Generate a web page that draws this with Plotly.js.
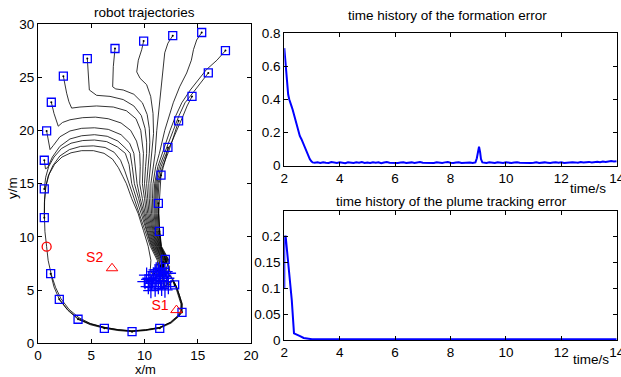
<!DOCTYPE html>
<html>
<head>
<meta charset="utf-8">
<script src="https://cdn.plot.ly/plotly-3.0.1.min.js"></script>
<style>html,body{margin:0;padding:0;background:#fff;}#chart{width:621px;height:377px;}</style>
</head>
<body>
<div id="chart"></div>
<script>
// ---------- robot trajectories (left panel), metres ----------
const pathNames = ["circle","Q","P","A","B","C","D","E","F","G","H","I","J","K","L","M","N","O","AB","AA","Z","R","S","T","C2","Y"];
const pathsX = [
 [0.81,0.65,0.6,0.62,0.75,1.05,1.55,2.25,3.1,4.1,5.2,6.2,7.0,7.55,7.95,8.3,8.8,9.4,9.9,10.35,10.6,10.6,10.55,10.65,11.0,11.5,11.8,11.6,11.1,10.99],
 [0.59,0.6,0.7,0.95,1.4,2.05,2.95,4.0,5.2,6.3,7.15,7.75,8.15,8.55,9.05,9.55,10.05,10.55,11.2,11.3],
 [0.59,0.72,1.0,1.5,2.2,3.1,4.2,5.3,6.45,7.45,8.2,8.55,8.8,9.25,9.7,10.15,10.65,11.3,11.61],
 [0.59,0.7,0.9,1.35,2.05,3.0,4.1,5.3,6.5,7.5,8.25,8.65,8.85,9.05,9.45,9.82,10.25,10.72,11.4,11.77],
 [0.81,0.95,1.13,1.45,2.05,3.0,4.1,5.3,6.6,7.8,8.6,9.0,9.15,9.3,9.6,9.94,10.35,10.79,11.48,12.08],
 [1.25,1.5,1.9,2.3,3.0,4.2,5.4,6.6,7.8,8.7,9.25,9.55,9.6,9.55,9.8,10.06,10.45,10.86,11.56,12.24],
 [2.38,2.5,2.69,2.9,3.16,3.94,5.5,7.07,8.3,9.2,9.65,9.9,9.85,9.8,10.0,10.18,10.54,10.93,11.64,12.24],
 [4.63,4.72,4.82,5.5,6.76,8.0,9.0,9.7,10.05,10.2,10.2,10.1,10.0,10.15,10.3,10.63,11.0,11.7,11.92],
 [7.23,7.1,7.07,7.01,7.3,8.0,9.0,9.8,10.25,10.45,10.5,10.45,10.35,10.2,10.3,10.42,10.72,11.06,11.76,11.61],
 [9.92,9.74,9.42,9.27,9.58,10.2,10.58,10.8,10.85,10.7,10.55,10.4,10.45,10.54,10.8,11.12,11.82,11.3],
 [12.65,12.2,11.9,11.77,11.6,11.45,11.3,11.15,11.0,10.8,10.6,10.6,10.66,10.88,11.18,11.88,11.3],
 [15.37,14.9,14.6,14.4,13.96,13.3,12.7,12.2,11.9,11.4,11.05,10.8,10.75,10.78,10.96,11.24,11.94,11.46],
 [17.6,16.8,15.8,15.05,14.3,13.5,12.9,12.4,11.7,11.25,10.95,10.88,10.9,11.04,11.3,12.0,11.15],
 [15.99,15.4,14.6,13.8,13.2,12.7,11.9,11.4,11.05,10.98,11.0,11.12,11.35,12.05,10.67],
 [14.46,14.0,13.55,13.1,12.55,12.05,11.55,11.15,11.07,11.1,11.2,11.4,12.1,10.52],
 [13.2,12.95,12.6,12.2,11.7,11.25,11.17,11.2,11.28,11.45,12.15,10.83],
 [12.2,12.05,11.75,11.35,11.27,11.28,11.36,11.5,12.2,10.36],
 [11.55,11.5,11.35,11.32,11.42,11.55,12.25,10.05],
 [11.3,11.33,11.42,11.6,12.3,11.8],
 [11.39,11.55,11.95,12.35,12.24],
 [11.95,12.3,12.5,11.92],
 [1.19,1.5,2.0,2.8,3.76,4.9,6.23,7.5,8.83,10.1,11.43,12.5,13.2,13.52,13.55,13.33,13.02,12.7,12.4,12.08],
 [2.0,2.75,3.72,4.88,6.2,7.5,8.8,10.1,11.4,12.45,13.15,13.45,13.48,13.28,12.98,12.65,12.24],
 [3.76,4.85,6.2,7.5,8.8,10.1,11.4,12.42,13.1,13.4,13.42,13.22,12.92,12.6,11.92],
 [0.81,0.95,1.25,1.65,2.15,2.9,3.85,4.95,6.25,7.55,8.85,10.1,11.4,12.5,13.2,13.5,13.5,13.3,13.0,12.68,11.61],
 [12.83,12.6,12.3,11.99]
];
const pathsY = [
 [9.08,10.5,12.0,13.5,14.8,15.9,16.8,17.5,17.9,18.1,18.1,17.85,17.3,16.5,15.7,15.0,13.6,12.2,10.6,9.1,7.8,7.5,7.0,6.6,6.4,6.5,6.9,7.3,7.4,6.73],
 [11.8,13.2,14.6,15.7,16.7,17.6,18.2,18.5,18.55,18.4,17.95,17.2,16.2,15.0,13.6,12.2,10.6,9.1,7.8,6.89],
 [14.5,15.6,16.6,17.5,18.3,18.8,19.05,19.1,18.95,18.45,17.85,16.8,15.0,13.6,12.2,10.6,9.1,7.8,7.05],
 [17.2,16.4,16.5,17.5,18.5,19.2,19.5,19.6,19.45,19.0,18.3,17.85,16.6,15.0,13.6,12.2,10.6,9.1,7.8,5.79],
 [19.95,19.0,18.2,18.6,19.4,19.95,20.2,20.25,20.1,19.6,18.8,17.85,16.6,15.0,13.6,12.2,10.6,9.1,7.8,6.11],
 [22.65,21.6,20.4,20.75,21.0,21.2,21.25,21.1,20.7,20.0,19.0,17.85,16.6,15.0,13.6,12.2,10.6,9.1,7.8,6.58],
 [25.1,24.3,23.5,22.7,22.1,22.2,22.3,22.2,21.85,21.1,20.0,17.85,16.6,15.0,13.6,12.2,10.6,9.1,7.8,5.32],
 [26.75,25.05,23.8,23.3,23.2,22.9,22.3,21.4,20.2,18.9,17.85,16.6,15.0,13.6,12.2,10.6,9.1,7.8,5.01],
 [27.7,26.6,26.0,24.1,23.9,23.8,23.4,22.6,21.5,20.2,18.9,17.85,16.6,15.0,13.6,12.2,10.6,9.1,7.8,5.17],
 [28.4,27.6,26.6,25.5,24.9,24.3,23.2,21.6,19.7,17.85,16.6,15.0,13.6,12.2,10.6,9.1,7.8,5.32],
 [28.9,28.2,27.3,26.0,24.7,23.2,21.6,20.0,17.85,16.6,15.0,13.6,12.2,10.6,9.1,7.8,6.89],
 [29.2,28.5,27.6,26.6,25.4,24.1,22.6,21.0,20.0,17.85,16.6,15.0,13.6,12.2,10.6,9.1,7.8,6.42],
 [27.5,26.6,25.7,24.7,23.8,22.6,21.3,20.0,17.85,16.6,15.0,13.6,12.2,10.6,9.1,7.8,6.11],
 [25.4,24.6,23.6,22.6,21.3,20.0,17.85,16.6,15.0,13.6,12.2,10.6,9.1,7.8,5.64],
 [23.2,22.3,21.2,20.1,18.9,17.85,16.6,15.0,13.6,12.2,10.6,9.1,7.8,6.11],
 [20.9,20.0,19.0,17.85,16.6,15.0,13.6,12.2,10.6,9.1,7.8,6.42],
 [18.4,17.6,16.5,15.0,13.6,12.2,10.6,9.1,7.8,5.32],
 [15.8,15.0,13.6,12.2,10.6,9.1,7.8,5.79],
 [13.15,12.2,10.6,9.1,7.8,6.3],
 [10.52,9.1,7.89,7.2,6.58],
 [7.89,7.1,6.5,6.73],
 [6.54,5.3,4.13,3.1,2.26,1.75,1.41,1.2,1.09,1.2,1.41,1.9,2.5,2.91,3.7,4.4,5.3,5.95,6.4,6.11],
 [4.13,3.2,2.36,1.82,1.47,1.25,1.14,1.24,1.46,1.95,2.55,3.0,3.7,4.45,5.3,5.95,5.32],
 [2.26,1.85,1.5,1.28,1.17,1.27,1.49,1.98,2.58,3.05,3.7,4.45,5.3,5.9,5.01],
 [9.08,7.8,6.45,5.25,4.2,3.2,2.4,1.85,1.5,1.28,1.16,1.26,1.48,1.97,2.56,3.0,3.7,4.45,5.3,5.95,5.17],
 [5.48,6.0,6.5,5.64]
];
// start positions (squares)
const startX = [0.59,0.81,1.25,2.38,4.63,7.23,9.92,12.65,15.37,17.6,15.99,14.46,13.2,12.2,11.55,11.3,11.39,11.95,12.83,13.52,11.43,8.83,6.23,3.76,2.0,1.19,0.59,0.59,10.36];
const startY = [17.2,19.95,22.65,25.1,26.75,27.7,28.4,28.9,29.2,27.5,25.4,23.2,20.9,18.4,15.8,13.15,10.52,7.89,5.48,2.91,1.41,1.09,1.41,2.26,4.13,6.54,11.8,14.5,5.64];
// leader start (red circle)
const leaderX = [0.81];
const leaderY = [9.08];
// final positions (+)
const finalX = [10.05,10.36,10.67,10.52,10.83,10.99,11.3,11.61,11.92,11.46,11.15,10.99,11.3,11.61,11.92,12.24,11.77,12.08,12.24,10.2,10.8,11.1,11.5,11.8,10.6,11.0,11.4,10.4];
const finalY = [5.79,5.32,5.64,6.11,6.42,6.73,6.89,7.05,6.73,6.42,6.11,5.64,5.32,5.17,5.01,5.32,5.79,6.11,6.58,6.4,5.9,6.9,5.9,6.3,4.95,5.1,6.7,6.0];
// sources
const srcNames = ["S2","S1"];
const srcX = [6.95,13.0];
const srcY = [7.05,3.12];
const srcLabelX = [5.32,11.46];
const srcLabelY = [8.0,3.44];

// ---------- formation error ----------
const feT = [2.0,2.03,2.06,2.1,2.14,2.18,2.22,2.26,2.3,2.35,2.4,2.45,2.5,2.56,2.62,2.68,2.74,2.8,2.86,2.92,2.97,3.02,3.1,
 3.2,3.3,3.4,3.5,3.6,3.7,3.8,3.9,4.0,4.1,4.2,4.3,4.4,4.5,4.6,4.7,4.8,4.9,5.0,5.1,5.2,5.3,5.4,5.5,5.6,5.7,5.8,5.9,6.0,6.1,6.2,6.3,6.4,6.5,6.6,6.7,6.8,6.9,7.0,7.1,7.2,7.3,7.4,7.5,7.6,7.7,7.8,7.9,8.0,8.1,8.2,8.3,8.4,8.5,8.6,8.7,8.8,
 8.9,8.95,9.0,9.03,9.07,9.1,9.15,
 9.2,9.3,9.4,9.5,9.6,9.7,9.8,9.9,10.0,10.1,10.2,10.3,10.4,10.5,10.6,10.7,10.8,10.9,11.0,11.1,11.2,11.3,11.4,11.5,11.6,11.7,11.8,11.9,12.0,12.1,12.2,12.3,12.4,12.5,12.6,12.7,12.8,12.9,13.0,13.1,13.2,13.3,13.4,13.5,13.6,13.7,13.8,13.9,14.0];
const feV = [0.71,0.64,0.56,0.48,0.43,0.40,0.37,0.36,0.34,0.31,0.28,0.245,0.205,0.18,0.16,0.135,0.11,0.085,0.06,0.04,0.028,0.02,0.018,
 0.020,0.017,0.021,0.018,0.016,0.022,0.019,0.017,0.020,0.018,
 0.015,0.021,0.019,0.016,0.020,0.018,0.022,0.017,0.019,0.016,
 0.021,0.018,0.020,0.015,0.019,0.022,0.018,0.017,0.020,0.016,
 0.019,0.021,0.017,0.018,0.020,0.016,0.019,0.022,0.018,0.017,
 0.020,0.019,0.016,0.021,0.018,0.017,0.020,0.022,0.018,0.016,
 0.019,0.021,0.017,0.018,0.020,0.019,0.017,
 0.02,0.045,0.09,0.115,0.08,0.04,0.02,
 0.019,0.017,0.020,0.018,0.016,0.021,0.019,0.017,0.020,0.018,
 0.016,0.019,0.021,0.018,0.017,0.020,0.019,0.016,0.018,0.021,
 0.017,0.019,0.020,0.018,0.016,0.019,0.021,0.018,0.020,0.017,
 0.019,0.018,0.021,0.020,0.018,0.022,0.019,0.021,0.023,0.020,
 0.022,0.024,0.021,0.025,0.023,0.026,0.028,0.025,0.027];

// ---------- plume tracking error ----------
const ptT = [2.0,2.0,2.05,2.1,2.18,2.27,2.35,2.45,2.55,2.7,2.85,3.0,4,5,6,7,8,9,10,11,12,13,14];
const ptV = [0.1,0.2,0.2,0.175,0.129,0.077,0.013,0.011,0.008,0.004,0.0025,0.0015,0.0015,0.0015,0.0015,0.0015,0.0015,0.0015,0.0015,0.0015,0.0015,0.0015,0.0015];

const FONT = "Liberation Sans, Arial, Helvetica, sans-serif";
const traces = [];
pathsX.forEach((px, i) => {
  traces.push({x: px, y: pathsY[i], name: pathNames[i], type: "scatter", mode: "lines",
    line: {color: "black", width: 0.8}, xaxis: "x", yaxis: "y", hoverinfo: "skip"});
});
traces.push({x: startX, y: startY, type: "scatter", mode: "markers", xaxis: "x", yaxis: "y",
  marker: {symbol: "square-open", size: 8, color: "#0000ff", line: {width: 1.3, color: "#0000ff"}}});
traces.push({x: startX, y: startY, type: "scatter", mode: "markers", xaxis: "x", yaxis: "y",
  marker: {symbol: "circle", size: 2, color: "black"}});
traces.push({x: finalX, y: finalY, type: "scatter", mode: "markers", xaxis: "x", yaxis: "y",
  marker: {symbol: "cross-thin-open", size: 11, color: "#0000ff", line: {width: 1.3, color: "#0000ff"}}});
traces.push({x: leaderX, y: leaderY, type: "scatter", mode: "markers", xaxis: "x", yaxis: "y",
  marker: {symbol: "circle-open", size: 9, color: "#ff0000", line: {width: 1.3, color: "#ff0000"}}});
traces.push({x: srcX, y: srcY, type: "scatter", mode: "markers", xaxis: "x", yaxis: "y",
  marker: {symbol: "triangle-up-open", size: 10, color: "#ff0000", line: {width: 1, color: "#ff0000"}}});
traces.push({x: srcLabelX, y: srcLabelY, text: srcNames, type: "scatter", mode: "text", xaxis: "x", yaxis: "y",
  textfont: {family: FONT, size: 14, color: "#ff0000"}, textposition: "middle center"});
traces.push({x: feT, y: feV, type: "scatter", mode: "lines", xaxis: "x2", yaxis: "y2",
  line: {color: "#0000ff", width: 2}});
traces.push({x: ptT, y: ptV, type: "scatter", mode: "lines", xaxis: "x3", yaxis: "y3",
  line: {color: "#0000ff", width: 2}});

const axBase = {showline: true, mirror: "ticks", ticks: "inside", ticklen: 4, tickwidth: 1, tickcolor: "black",
  linecolor: "black", linewidth: 1, showgrid: false, zeroline: false, ticklabeloverflow: "allow",
  tickfont: {family: FONT, size: 13.5, color: "black"}};

const ann = (text, x, y, extra) => Object.assign({text: text, x: x, y: y, xref: "paper", yref: "paper",
  showarrow: false, xanchor: "center", yanchor: "middle", font: {family: FONT, size: 13.5, color: "black"}}, extra || {});

const layout = {
  width: 621, height: 377, margin: {l: 0, r: 0, t: 0, b: 0},
  paper_bgcolor: "white", plot_bgcolor: "white", showlegend: false,
  xaxis: Object.assign({}, axBase, {domain: [0.0612, 0.4042], range: [0, 20], dtick: 5, anchor: "y"}),
  yaxis: Object.assign({}, axBase, {domain: [0.0894, 0.9363], range: [0, 30], dtick: 5, anchor: "x"}),
  xaxis2: Object.assign({}, axBase, {domain: [0.4578, 0.9931], range: [2, 14], tickvals: [2,4,6,8,10,12,14], anchor: "y2"}),
  yaxis2: Object.assign({}, axBase, {domain: [0.5605, 0.9117], range: [0, 0.8], dtick: 0.2, anchor: "x2"}),
  xaxis3: Object.assign({}, axBase, {domain: [0.4578, 0.9931], range: [2, 14], tickvals: [2,4,6,8,10,12,14], anchor: "y3"}),
  yaxis3: Object.assign({}, axBase, {domain: [0.0981, 0.4411], range: [0, 0.25], tickvals: [0, 0.05, 0.1, 0.15, 0.2], ticktext: ["0","0.05","0.1","0.15","0.2"], anchor: "x3"}),
  annotations: [
    ann("robot trajectories", 0.2319, 0.9668),
    ann("time history of the formation error", 0.7214, 0.9602),
    ann("time history of the plume tracking error", 0.727, 0.4642),
    ann("time/s", 0.9469, 0.5013),
    ann("time/s", 0.9517, 0.0451),
    ann("x/m", 0.2335, 0.0186, {font: {family: FONT, size: 13, color: "black"}}),
    ann("y/m", 0.0193, 0.5013, {textangle: -90})
  ]
};
Plotly.newPlot("chart", traces, layout, {staticPlot: true, displayModeBar: false});
</script>
</body>
</html>
